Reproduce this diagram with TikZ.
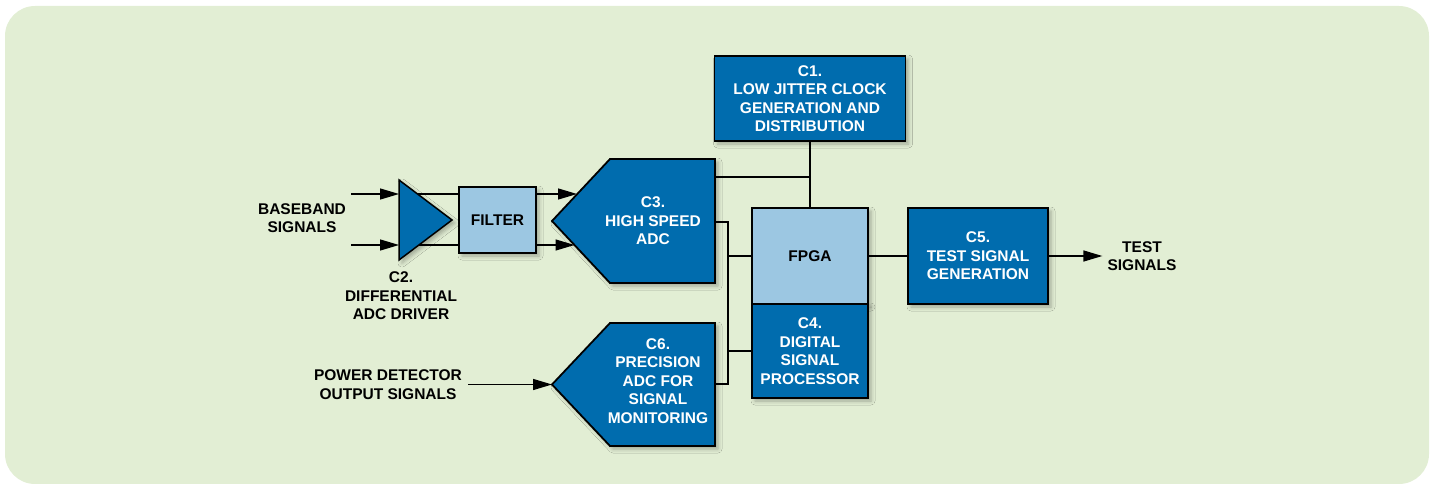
\documentclass[tikz,border=0pt]{standalone}
\usepackage{fontspec}
\setmainfont{Liberation Sans}
\usetikzlibrary{arrows.meta,shadows.blur}
\definecolor{PanelGreen}{RGB}{226,238,212}
\definecolor{BlockBlue}{RGB}{0,108,174}
\definecolor{PaleBlue}{RGB}{156,199,226}
\tikzset{
  blk/.style={draw=black,line width=1.8pt,fill=BlockBlue,
    blur shadow={shadow xshift=3pt,shadow yshift=-3pt,shadow opacity=30,shadow blur radius=4pt}},
  pale/.style={blk,fill=PaleBlue},
  txt/.style={font=\fontsize{15.5}{18.5}\selectfont\bfseries,align=center,inner sep=0pt},
  wtxt/.style={txt,text=white},
  wire/.style={draw=black,line width=1.4pt},
  sig/.style={wire,-{Triangle[length=19pt,width=11pt]}},
}

\begin{document}
\begin{tikzpicture}[x=1pt,y=-1pt]
  \useasboundingbox (0,0) rectangle (1434,484);
  \fill[PanelGreen,rounded corners=30pt] (5,6) rectangle (1429,484);

  % inputs and driver
  \node[txt] (bb) at (302,218) {BASEBAND\\SIGNALS};
  \coordinate (in1) at (351,194);
  \coordinate (in2) at (351,245);
  \coordinate (amp1) at (399,180);
  \coordinate (amp2) at (399,260);
  \coordinate (amptip) at (452,220);
  \node[pale,txt,minimum width=77pt,minimum height=66pt] (filter) at (497.5,220) {FILTER};
  \foreach \i in {in1,in2} {
    \draw[sig] (\i) -- (\i -| amp1);
    \draw[wire] (\i -| amp1) -- (\i -| filter.west);
  }
  \draw[blk,line width=1.5pt] (amp1) -- (amptip) -- (amp2) -- cycle;
  \node[txt] (c2) at (401,296) {C2.\\DIFFERENTIAL\\ADC DRIVER};

  % high speed adc
  \draw[blk] (610,159) -- (715,159) -- (715,283) -- (610,283) -- (552,221) -- cycle;
  \node[wtxt] (c3) at (653,221) {C3.\\HIGH SPEED\\ADC};
  \coordinate (c3in1) at (577,194);
  \coordinate (c3in2) at (574.5,245);
  \coordinate (c3o1) at (715,177);
  \coordinate (c3o2) at (715,222);
  \draw[sig] (in1 -| filter.east) -- (c3in1);
  \draw[sig] (in2 -| filter.east) -- (c3in2);

  % precision adc
  \draw[blk] (610,323) -- (715,323) -- (715,446) -- (610,446) -- (552,384.5) -- cycle;
  \node[wtxt] (c6) at (658,381) {C6.\\PRECISION\\ADC FOR\\SIGNAL\\MONITORING};
  \coordinate (c6tip) at (552,384.5);
  \coordinate (c6o) at (715,384);
  \node[txt] (pd) at (388,384.5) {POWER DETECTOR\\OUTPUT SIGNALS};
  \draw[sig] ([xshift=6pt]pd.east) -- (c6tip);

  % clock, fpga, dsp
  \node[blk,wtxt,minimum width=191pt,minimum height=85pt] (c1) at (810,98.5)
    {C1.\\LOW JITTER CLOCK\\GENERATION AND\\DISTRIBUTION};
  \node[pale,txt,minimum width=116pt,minimum height=96pt] (fpga) at (810,256) {FPGA};
  \node[blk,wtxt,minimum width=116pt,minimum height=94pt] (c4) at (810,351)
    {C4.\\DIGITAL\\SIGNAL\\PROCESSOR};
  \coordinate (bus) at (728,384);
  \draw[wire] (c1.south) -- (fpga.north);
  \draw[wire] (c3o1) -- (c3o1 -| c1.south);
  \draw[wire] (c3o2) -| (bus) -- (c6o);
  \draw[wire] (fpga.west -| bus) -- (fpga.west);
  \draw[wire] (c4.west -| bus) -- (c4.west);

  % test signal generation
  \node[blk,wtxt,minimum width=140pt,minimum height=96pt] (c5) at (978,256)
    {C5.\\TEST SIGNAL\\GENERATION};
  \node[txt] (tsig) at (1142,256) {TEST\\SIGNALS};
  \draw[wire] (fpga.east) -- (c5.west);
  \draw[sig,shorten >=5pt] (c5.east) -- (tsig.west);
\end{tikzpicture}
\end{document}
